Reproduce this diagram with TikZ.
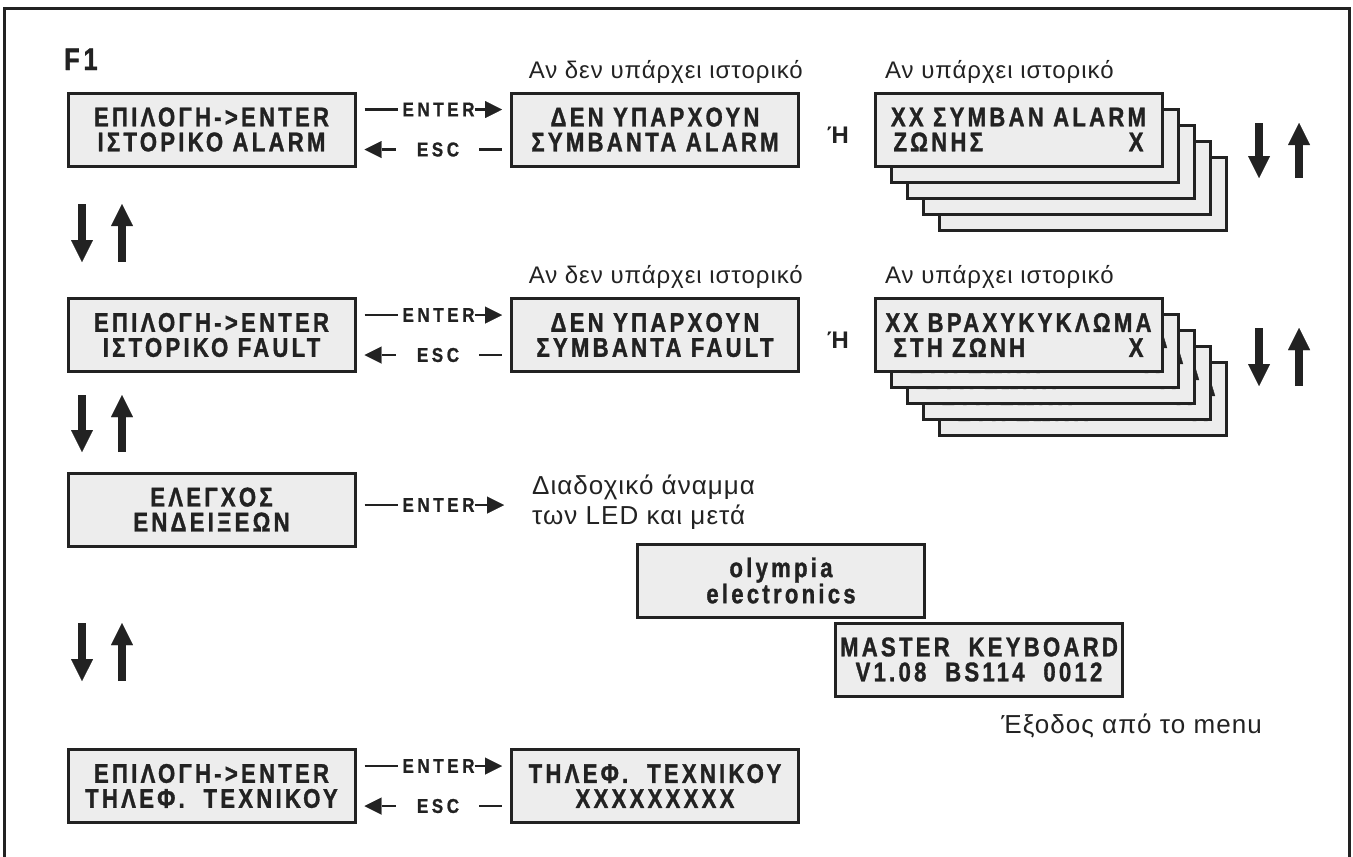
\documentclass[tikz,border=0pt]{standalone}
\usepackage{fontspec}
\setmainfont{Liberation Sans}
\newfontfamily\lcdfont[FakeStretch=0.82,LetterSpace=12,FakeBold=1.2]{Liberation Sans}
\newfontfamily\keyfont[FakeStretch=0.85,LetterSpace=18,FakeBold=1]{Liberation Sans}
\newfontfamily\remfont[LetterSpace=4]{Liberation Sans}
\usetikzlibrary{arrows,arrows.meta,positioning,calc}
\definecolor{lcdgray}{HTML}{EDEDED}
\definecolor{ink}{HTML}{222222}
\newcommand{\lcdtext}{\lcdfont\bfseries\fontsize{27}{25}\selectfont}
\newcommand{\keytext}{\keyfont\bfseries\fontsize{20}{20}\selectfont}
\newcommand{\remtext}{\remfont\fontsize{24}{30}\selectfont}
\newcommand{\updownarr}[3]{
  \draw[bigarrow] (#1,#2) -- (#1,#3);
  \draw[bigarrow] (#1+40,#3) -- (#1+40,#2);}

\begin{document}
\begin{tikzpicture}[x=1pt,y=1pt,
    lcd/.style={draw=ink,line width=3pt,fill=lcdgray,minimum width=287pt,
                minimum height=73pt,inner sep=0pt,align=center,font=\lcdtext,text=ink},
    keylbl/.style={font=\keytext,inner sep=0pt,text=ink},
    remark/.style={font=\remtext,inner sep=0pt,text=ink},
    wire/.style={draw=ink,line width=2.2pt},
    entertip/.style={wire,-{Triangle[length=17pt,width=17pt,line width=0.01pt]}},
    esctip/.style={wire,{Triangle[length=17pt,width=17pt,line width=0.01pt]}-},
    bigarrow/.style={draw=ink,line width=8pt,-{Triangle[length=22pt,width=22pt,line width=0.01pt]}}]
  \useasboundingbox (0,0) rectangle (1353,-857);
  \draw[ink,line width=3pt] (4,-870) -- (4,-8) -- (1349,-8) -- (1349,-870);

  \node[anchor=base west,inner sep=0pt,text=ink,font=\lcdfont\bfseries\fontsize{31}{31}\selectfont] (f1) at (64,-70) {F1};

  % alarm history
  \node[lcd] (A1) at (211.5,-129.5) {ΕΠΙΛΟΓΗ->ENTER\\ΙΣΤΟΡΙΚΟ ALARM};
  \node[lcd] (B1) at (655,-129.5) {ΔΕΝ ΥΠΑΡΧΟΥΝ\\ΣΥΜΒΑΝΤΑ ALARM};
  \node[remark,anchor=base east] (no1) at (803,-78) {Αν δεν υπάρχει ιστορικό};
  \node[remark,anchor=base west] (yes1) at (885,-78) {Αν υπάρχει ιστορικό};
  \node[remark,font=\remtext\bfseries] (or1) at (838,-135) {Ή};
  \foreach \k in {4,3,2,1}
    \node[lcd] (S1b\k) at (1018.5+16*\k,-129.5-16*\k)
      {XX ΣΥΜΒΑΝ ALARM\\\makebox[250pt]{ΖΩΝΗΣ\hfill X}};
  \node[lcd] (S1) at (1018.5,-129.5) {XX ΣΥΜΒΑΝ ALARM\\\makebox[250pt]{ΖΩΝΗΣ\hfill X}};
  \node[keylbl] (en1) at (438.5,-109.5) {ENTER};
  \node[keylbl] (esc1) at (438,-149.5) {ESC};
  \path (A1.east |- en1) edge[wire,shorten <=8pt,shorten >=4pt] (en1.west)
        (en1.east) edge[entertip,shorten >=8pt] (en1.east -| B1.west)
        (A1.east |- esc1) edge[esctip,shorten <=8pt,shorten >=21pt] (esc1.west)
        (esc1.east) edge[wire,shorten <=20pt,shorten >=8pt] (esc1.east -| B1.west);
  \updownarr{1259}{-123}{-178}
  \updownarr{82}{-204}{-262}

  % fault history
  \node[lcd] (A2) at (211.5,-335) {ΕΠΙΛΟΓΗ->ENTER\\ΙΣΤΟΡΙΚΟ FAULT};
  \node[lcd] (B2) at (655,-335) {ΔΕΝ ΥΠΑΡΧΟΥΝ\\ΣΥΜΒΑΝΤΑ FAULT};
  \node[remark,anchor=base east] (no2) at (803,-283) {Αν δεν υπάρχει ιστορικό};
  \node[remark,anchor=base west] (yes2) at (885,-283) {Αν υπάρχει ιστορικό};
  \node[remark,font=\remtext\bfseries] (or2) at (838,-340.5) {Ή};
  \foreach \k in {4,3,2,1}
    \node[lcd] (S2b\k) at (1018.5+16*\k,-335-16*\k)
      {XX ΒΡΑΧΥΚΥΚΛΩΜΑ\\\makebox[250pt]{ΣΤΗ ΖΩΝΗ\hfill X}};
  \node[lcd] (S2) at (1018.5,-335) {XX ΒΡΑΧΥΚΥΚΛΩΜΑ\\\makebox[250pt]{ΣΤΗ ΖΩΝΗ\hfill X}};
  \node[keylbl] (en2) at (438.5,-315) {ENTER};
  \node[keylbl] (esc2) at (438,-355) {ESC};
  \path (A2.east |- en2) edge[wire,shorten <=8pt,shorten >=4pt] (en2.west)
        (en2.east) edge[entertip,shorten >=8pt] (en2.east -| B2.west)
        (A2.east |- esc2) edge[esctip,shorten <=8pt,shorten >=21pt] (esc2.west)
        (esc2.east) edge[wire,shorten <=20pt,shorten >=8pt] (esc2.east -| B2.west);
  \updownarr{1259}{-328}{-386}
  \updownarr{82}{-395}{-452}

  % led test
  \node[lcd] (A3) at (211.5,-509.5) {ΕΛΕΓΧΟΣ\\ΕΝΔΕΙΞΕΩΝ};
  \node[remark,anchor=north west,align=left,font=\remfont\fontsize{26}{30}\selectfont] (seq) at (532,-475)
    {Διαδοχικό άναμμα\\των LED και μετά};
  \node[keylbl] (en3) at (438.5,-505) {ENTER};
  \path (A3.east |- en3) edge[wire,shorten <=8pt,shorten >=4pt] (en3.west)
        (en3.east) edge[entertip,shorten >=28pt] (en3.east -| seq.west);
  \node[lcd] (logo) at (781,-580.5) {olympia\\electronics};
  \node[lcd] (ver) at (979,-659.5) {MASTER\ \ KEYBOARD\\V1.08\ \ BS114\ \ 0012};
  \node[remark,anchor=base east,font=\remfont\fontsize{26}{30}\selectfont] (quit) at (1262,-733) {Έξοδος από το menu};
  \updownarr{82}{-623}{-681}

  % technician phone
  \node[lcd] (A4) at (211.5,-786) {ΕΠΙΛΟΓΗ->ENTER\\ΤΗΛΕΦ.\ \ ΤΕΧΝΙΚΟΥ};
  \node[lcd] (B4) at (655,-786) {ΤΗΛΕΦ.\ \ ΤΕΧΝΙΚΟΥ\\XXXXXXXXX};
  \node[keylbl] (en4) at (438.5,-766) {ENTER};
  \node[keylbl] (esc4) at (438,-806) {ESC};
  \path (A4.east |- en4) edge[wire,shorten <=8pt,shorten >=4pt] (en4.west)
        (en4.east) edge[entertip,shorten >=8pt] (en4.east -| B4.west)
        (A4.east |- esc4) edge[esctip,shorten <=8pt,shorten >=21pt] (esc4.west)
        (esc4.east) edge[wire,shorten <=20pt,shorten >=8pt] (esc4.east -| B4.west);
\end{tikzpicture}
\end{document}
